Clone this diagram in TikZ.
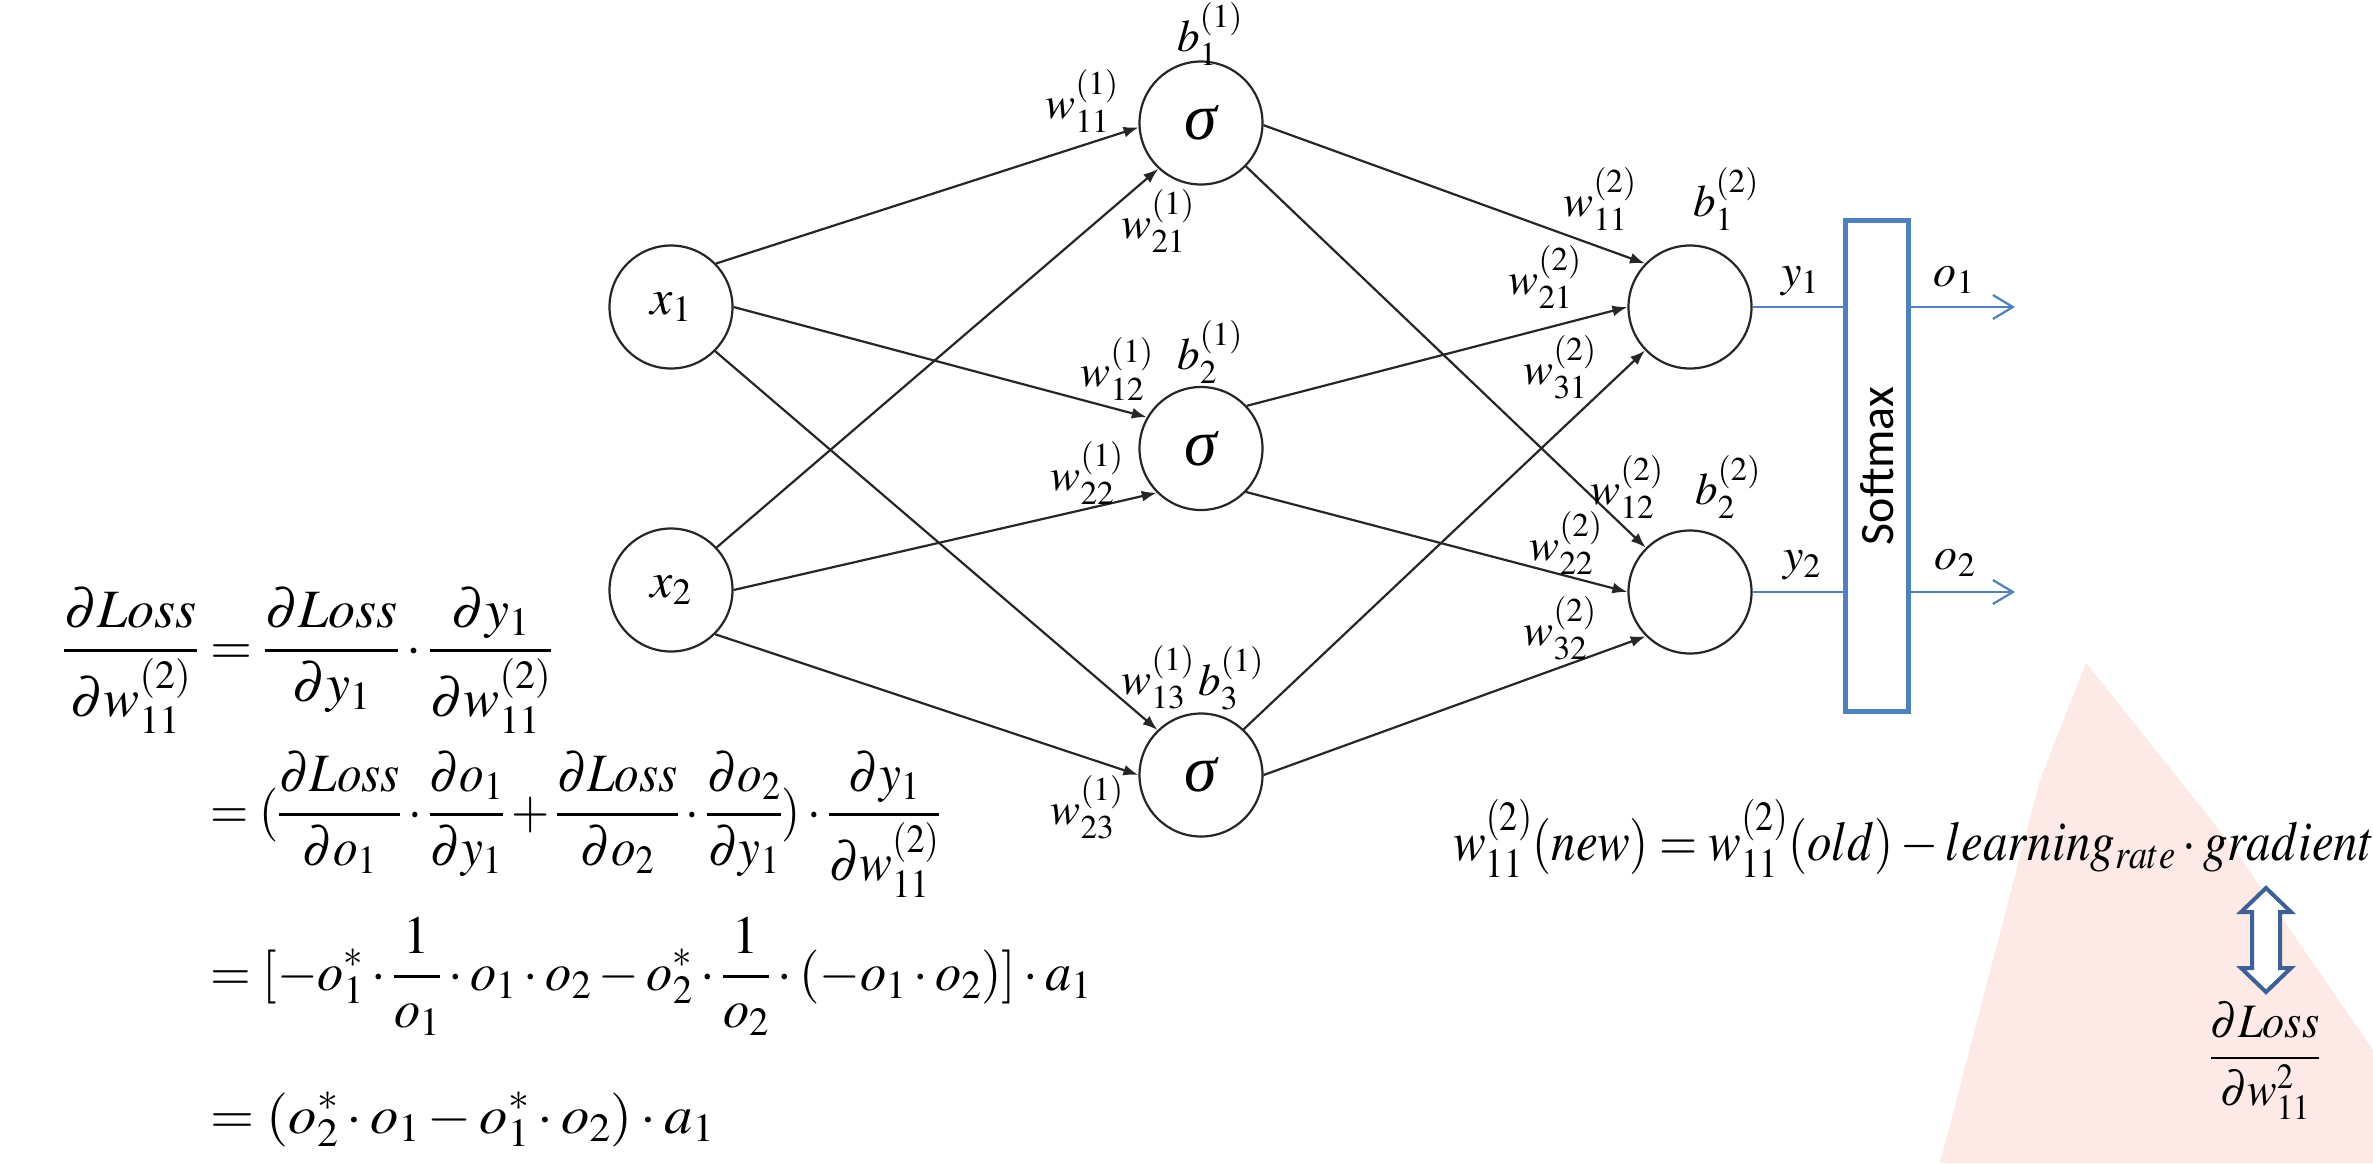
\documentclass[tikz,border=0pt]{standalone}
\usepackage{amsmath}
\usepackage{mathptmx}
\usepackage{graphicx}
\usepackage[no-math]{fontspec}
\newfontfamily\smaxfont{Carlito}
\newfontfamily\sigmafont{Liberation Serif}
\usepackage{tikz}
\usetikzlibrary{arrows.meta}
\usepackage{xcolor}
\definecolor{smblue}{RGB}{79,129,189}
\definecolor{dblblue}{RGB}{62,96,150}
\definecolor{wmpink}{RGB}{253,234,230}

\begin{document}
\begin{tikzpicture}[x=1pt,y=1pt,yscale=-1,xscale=1,
  neuron/.style={draw=black!85,line width=2.2pt,circle,minimum size=123pt,inner sep=0pt},
  sig/.style={font=\sigmafont\itshape\fontsize{66}{76}\selectfont},
  wlab/.style={inner sep=0pt,font=\fontsize{45}{54}\selectfont},
  iolab/.style={inner sep=0pt,font=\fontsize{46}{54}\selectfont},
  edge/.style={draw=black!85,line width=2.2pt,-{Latex[length=15pt,width=11pt]}},
  blueline/.style={draw=smblue,line width=2.2pt},
  eqn/.style={anchor=base west,inner sep=0pt,font=\fontsize{54}{64}\selectfont}]
%set diagram size
\fill[white] (0,0) rectangle (2373,1163);
\useasboundingbox (0,0) rectangle (2373,1163);

%Shape: Polygon (watermark)
\fill[wmpink] (2086,663) -- (2040,780) -- (1940,1163) -- (2373,1163) -- (2373,1050) -- (2233,847) -- cycle;

%Shape: Circle
\node[neuron,font=\fontsize{50}{58}\selectfont] (x1) at (671,307) {$x_1$};
\node[neuron,font=\fontsize{50}{58}\selectfont] (x2) at (671,590) {$x_2$};
\node[neuron,sig] (h1) at (1201,123) {σ};
\node[neuron,sig] (h2) at (1201,448.5) {σ};
\node[neuron,sig] (h3) at (1201,775) {σ};
\node[neuron] (o1) at (1690,307) {};
\node[neuron] (o2) at (1690,592) {};

%Shape: Rectangle
\node[draw=smblue,line width=5pt,minimum width=63.5pt,minimum height=491pt,inner sep=0pt] (smax) at (1876.75,466) {};
% Text Node
\node[rotate=90,inner sep=0pt,font=\smaxfont\fontsize{48}{56}\selectfont] (smaxtxt) at (smax.center) {Softmax};

%Straight Lines
\draw[edge] (x1.44) -- (h1.184);
\draw[edge] (x1.0) -- (h2.150);
\draw[edge] (x1.-45) -- (h3.134);
\draw[edge] (x2.43) -- (h1.227);
\draw[edge] (x2.0) -- (h2.225);
\draw[edge] (x2.-45) -- (h3.180);
\draw[edge] (h1.-2) -- (o1.136);
\draw[edge] (h1.-44) -- (o2.135);
\draw[edge] (h2.43) -- (o1.180);
\draw[edge] (h2.-44) -- (o2.180);
\draw[edge] (h3.47) -- (o1.224);
\draw[edge] (h3.0) -- (o2.225);

%Straight Lines (softmax in / out)
\coordinate (end1) at (2015,307);
\coordinate (end2) at (2015,592);
\draw[blueline] (o1.east) -- (o1.east -| smax.west);
\draw[blueline] (o2.east) -- (o2.east -| smax.west);
\draw[blueline,-{Straight Barb[length=20pt,width=24pt,line width=2.2pt]}] (smax.east |- end1) -- (end1);
\draw[blueline,-{Straight Barb[length=20pt,width=24pt,line width=2.2pt]}] (smax.east |- end2) -- (end2);

% Text Node
\node[wlab] (b11) at (1210,34) {$b_1^{(1)}$};
\node[wlab] (w111) at (1082,101) {$w_{11}^{(1)}$};
\node[wlab] (w211) at (1158,221) {$w_{21}^{(1)}$};
\node[wlab] (b21) at (1210,352) {$b_2^{(1)}$};
\node[wlab] (w121) at (1117,369) {$w_{12}^{(1)}$};
\node[wlab] (w221) at (1087,473) {$w_{22}^{(1)}$};
\node[wlab] (w131) at (1158,677) {$w_{13}^{(1)}$};
\node[wlab] (b31) at (1231,678) {$b_3^{(1)}$};
\node[wlab] (w231) at (1087,807) {$w_{23}^{(1)}$};
% Text Node
\node[wlab] (w112) at (1600,199) {$w_{11}^{(2)}$};
\node[wlab] (b12) at (1726,199) {$b_1^{(2)}$};
\node[wlab] (w212) at (1545,277) {$w_{21}^{(2)}$};
\node[wlab] (w312) at (1560,367) {$w_{31}^{(2)}$};
\node[wlab] (w122) at (1627,487) {$w_{12}^{(2)}$};
\node[wlab] (b22) at (1728,487) {$b_2^{(2)}$};
\node[wlab] (w222) at (1566,543) {$w_{22}^{(2)}$};
\node[wlab] (w322) at (1560,628) {$w_{32}^{(2)}$};
% Text Node
\node[iolab] (y1) at (1800,281) {$y_1$};
\node[iolab] (y2) at (1802,565) {$y_2$};
\node[iolab] (out1) at (1954,280) {$o_1$};
\node[iolab] (out2) at (1955,563) {$o_2$};

% Text Node (chain rule)
\node[eqn] (eq1) at (63,664) {$\displaystyle \frac{\partial Loss}{\partial w_{11}^{(2)}}=\frac{\partial Loss}{\partial y_1}\cdot\frac{\partial y_1}{\partial w_{11}^{(2)}}$};
\node[eqn] (eq2) at (210,828) {\scalebox{0.91}[1]{$\displaystyle =(\frac{\partial Loss}{\partial o_1}\cdot\frac{\partial o_1}{\partial y_1}+\frac{\partial Loss}{\partial o_2}\cdot\frac{\partial o_2}{\partial y_1})\cdot\frac{\partial y_1}{\partial w_{11}^{(2)}}$}};
\node[eqn] (eq3) at (210,990) {\scalebox{0.97}[1]{$\displaystyle =[-o_1^*\cdot\frac{1}{o_1}\cdot o_1\cdot o_2-o_2^*\cdot\frac{1}{o_2}\cdot(-o_1\cdot o_2)]\cdot a_1$}};
\node[eqn] (eq4) at (210,1133) {\scalebox{1.05}[1]{$\displaystyle =(o_2^*\cdot o_1-o_1^*\cdot o_2)\cdot a_1$}};

% Text Node (update rule)
\node[eqn,font=\fontsize{56}{66}\selectfont] (upd) at (1453,860) {\scalebox{0.875}[1]{$w_{11}^{(2)}(new)=w_{11}^{(2)}(old)-learning_{rate}\cdot gradient$}};
\node[inner sep=0pt,anchor=base,font=\fontsize{48}{56}\selectfont] (grad) at (2265,1070) {\scalebox{0.92}[1]{$\displaystyle\frac{\partial Loss}{\partial w_{11}^{2}}$}};

%Shape: Up Down Arrow
\draw[dblblue,line width=4pt,fill=white,line join=miter] (2266,888) -- (2291,912) -- (2280,912) -- (2280,968) -- (2291,968) -- (2266,992) -- (2241,968) -- (2252,968) -- (2252,912) -- (2241,912) -- cycle;

\end{tikzpicture}
\end{document}
